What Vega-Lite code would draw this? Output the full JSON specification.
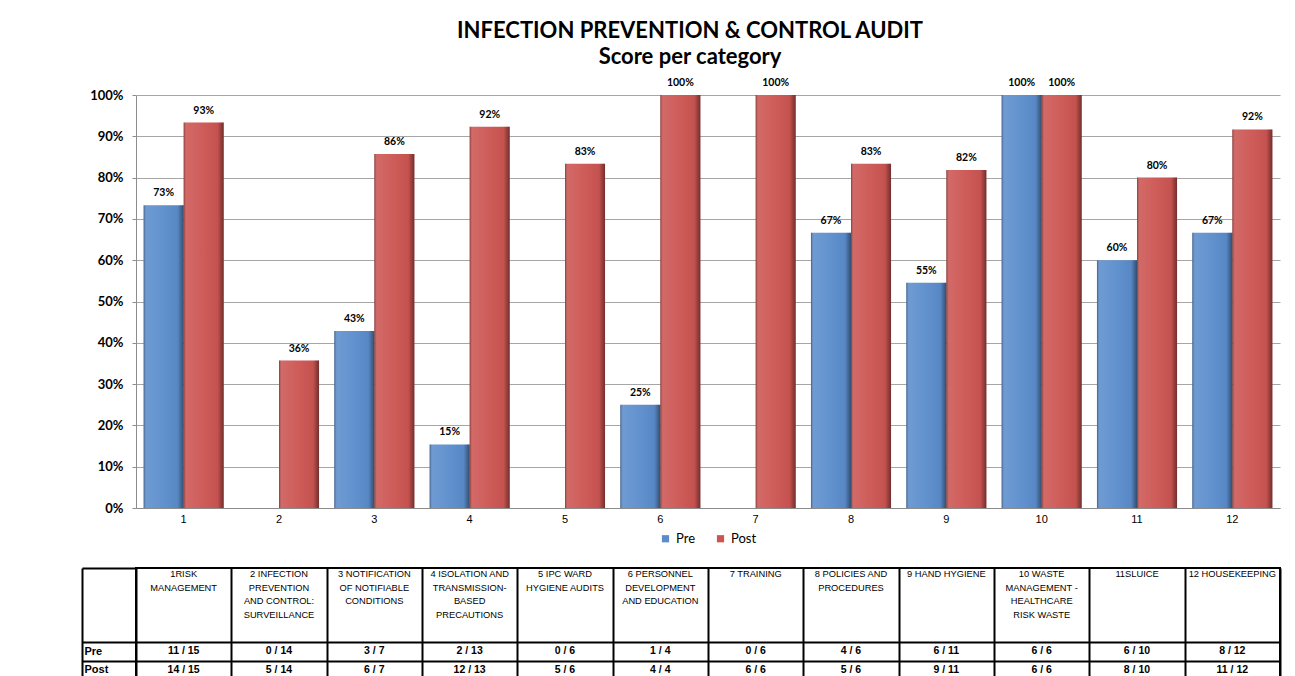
{
  "$schema": "https://vega.github.io/schema/vega-lite/v6.json",
  "padding": {"left": 80, "top": 20, "right": 5, "bottom": 0},
  "background": "white",
  "config": {"font": "Lato", "view": {"stroke": null}},
  "spacing": 0,
  "resolve": {"scale": {"x": "independent", "y": "independent", "color": "independent"}},
  "datasets": {
    "scores": [
      {"cat": 1, "series": "Pre", "value": 0.7333}, {"cat": 1, "series": "Post", "value": 0.9333},
      {"cat": 2, "series": "Pre", "value": 0}, {"cat": 2, "series": "Post", "value": 0.3571},
      {"cat": 3, "series": "Pre", "value": 0.4286}, {"cat": 3, "series": "Post", "value": 0.8571},
      {"cat": 4, "series": "Pre", "value": 0.1538}, {"cat": 4, "series": "Post", "value": 0.9231},
      {"cat": 5, "series": "Pre", "value": 0}, {"cat": 5, "series": "Post", "value": 0.8333},
      {"cat": 6, "series": "Pre", "value": 0.25}, {"cat": 6, "series": "Post", "value": 1},
      {"cat": 7, "series": "Pre", "value": 0}, {"cat": 7, "series": "Post", "value": 1},
      {"cat": 8, "series": "Pre", "value": 0.6667}, {"cat": 8, "series": "Post", "value": 0.8333},
      {"cat": 9, "series": "Pre", "value": 0.5455}, {"cat": 9, "series": "Post", "value": 0.8182},
      {"cat": 10, "series": "Pre", "value": 1}, {"cat": 10, "series": "Post", "value": 1},
      {"cat": 11, "series": "Pre", "value": 0.6}, {"cat": 11, "series": "Post", "value": 0.8},
      {"cat": 12, "series": "Pre", "value": 0.6667}, {"cat": 12, "series": "Post", "value": 0.9167}
    ],
    "table": [
      {"cat": 1, "header": "1RISK\nMANAGEMENT", "Pre": "11 / 15", "Post": "14 / 15"},
      {"cat": 2, "header": "2 INFECTION\nPREVENTION\nAND CONTROL:\nSURVEILLANCE", "Pre": "0 / 14", "Post": "5 / 14"},
      {"cat": 3, "header": "3 NOTIFICATION\nOF NOTIFIABLE\nCONDITIONS", "Pre": "3 / 7", "Post": "6 / 7"},
      {"cat": 4, "header": "4 ISOLATION AND\nTRANSMISSION-\nBASED\nPRECAUTIONS", "Pre": "2 / 13", "Post": "12 / 13"},
      {"cat": 5, "header": "5 IPC WARD\nHYGIENE AUDITS", "Pre": "0 / 6", "Post": "5 / 6"},
      {"cat": 6, "header": "6 PERSONNEL\nDEVELOPMENT\nAND EDUCATION", "Pre": "1 / 4", "Post": "4 / 4"},
      {"cat": 7, "header": "7 TRAINING", "Pre": "0 / 6", "Post": "6 / 6"},
      {"cat": 8, "header": "8 POLICIES AND\nPROCEDURES", "Pre": "4 / 6", "Post": "5 / 6"},
      {"cat": 9, "header": "9 HAND HYGIENE", "Pre": "6 / 11", "Post": "9 / 11"},
      {"cat": 10, "header": "10 WASTE\nMANAGEMENT -\nHEALTHCARE\nRISK WASTE", "Pre": "6 / 6", "Post": "6 / 6"},
      {"cat": 11, "header": "11SLUICE", "Pre": "6 / 10", "Post": "8 / 10"},
      {"cat": 12, "header": "12 HOUSEKEEPING", "Pre": "8 / 12", "Post": "11 / 12"}
    ]
  },
  "vconcat": [
    {
      "title": {
        "text": ["INFECTION PREVENTION & CONTROL AUDIT", "Score per category"],
        "font": "Lato", "fontSize": 22, "fontWeight": "bold", "color": "black",
        "lineHeight": 26, "offset": 9, "anchor": "middle", "dx": -18
      },
      "width": 1144,
      "height": 413,
      "data": {"name": "scores"},
      "encoding": {
        "x": {
          "field": "cat", "type": "ordinal",
          "scale": {"paddingInner": 0.16, "paddingOuter": 0.08},
          "axis": {"title": " ", "titleFontSize": 10, "titlePadding": 27, "labelAngle": 0, "ticks": false, "domainColor": "#8c8c8c",
                   "labelFont": "Liberation Sans", "labelFontSize": 11, "labelColor": "black", "labelPadding": 5}
        },
        "xOffset": {"field": "series", "type": "nominal", "sort": ["Pre", "Post"]},
        "y": {
          "field": "value", "type": "quantitative",
          "scale": {"domain": [0, 1]},
          "axis": {"title": null, "format": ".0%", "values": [0, 0.1, 0.2, 0.3, 0.4, 0.5, 0.6, 0.7, 0.8, 0.9, 1],
                   "labelFontWeight": "bold", "labelFontSize": 13, "labelColor": "black", "labelFont": "Lato",
                   "gridColor": "#a6a6a6", "domainColor": "#8c8c8c", "tickColor": "#8c8c8c", "tickSize": 4, "labelPadding": 9}
        }
      },
      "layer": [
        {
          "mark": {"type": "bar"},
          "encoding": {
            "color": {
              "field": "series", "type": "nominal",
              "scale": {"domain": ["Pre", "Post"], "range": ["#5b8dcc", "#cc5552"]},
              "legend": {"title": null, "orient": "none", "legendX": 523, "legendY": 437, "direction": "horizontal",
                         "symbolType": "square", "symbolSize": 52, "labelFontSize": 13, "labelFont": "Lato",
                         "labelColor": "black", "labelOffset": 4, "columnPadding": 18, "symbolStrokeWidth": 0}
            }
          }
        },
        {
          "mark": {
            "type": "bar",
            "fill": {
              "gradient": "linear", "x1": 0, "x2": 1, "y1": 0, "y2": 0,
              "stops": [
                {"offset": 0, "color": "rgba(0,0,0,0.35)"},
                {"offset": 0.07, "color": "rgba(255,255,255,0.12)"},
                {"offset": 0.5, "color": "rgba(255,255,255,0.04)"},
                {"offset": 0.85, "color": "rgba(0,0,0,0.04)"},
                {"offset": 1, "color": "rgba(0,0,0,0.45)"}
              ]
            }
          }
        },
        {
          "transform": [{"filter": "datum.value > 0"}],
          "mark": {"type": "text", "baseline": "alphabetic", "dy": -9, "fontWeight": "bold", "fontSize": 10.5, "font": "Lato", "color": "black"},
          "encoding": {"text": {"field": "value", "type": "quantitative", "format": ".0%"}}
        }
      ]
    },
    {
      "width": 1144,
      "height": 111,
      "view": {"stroke": "black", "strokeWidth": 2},
      "data": {"name": "table"},
      "encoding": {
        "x": {
          "field": "cat", "type": "ordinal",
          "scale": {"paddingInner": 0, "paddingOuter": 0},
          "axis": {"title": null, "orient": "bottom", "labels": false, "ticks": false, "domain": false, "grid": true,
                   "tickBand": "extent", "gridColor": "black", "gridWidth": 2, "gridOpacity": 1}
        }
      },
      "resolve": {"scale": {"y": "independent"}, "axis": {"y": "independent"}},
      "layer": [
        {
          "layer": [
            {
              "transform": [{"fold": ["Pre", "Post"], "as": ["row", "cell"]}],
              "mark": {"type": "text", "font": "Liberation Sans", "fontWeight": "bold", "fontSize": 10.5, "color": "black"},
              "encoding": {
                "y": {
                  "field": "row", "type": "nominal",
                  "scale": {"domain": ["h1", "h2", "h3", "h4", "Pre", "Post"], "paddingInner": 0, "paddingOuter": 0},
                  "axis": {"title": null, "values": ["Pre", "Post"], "offset": 54, "tickSize": -54, "tickBand": "extent",
                           "tickColor": "black", "tickWidth": 2, "domainColor": "black", "domainWidth": 2,
                           "grid": true, "gridColor": "black", "gridWidth": 2, "gridOpacity": 1,
                           "labelAlign": "left", "labelBaseline": "middle", "labelPadding": 52,
                           "labelFont": "Liberation Sans", "labelFontWeight": "bold", "labelFontSize": 11, "labelColor": "black"}
                },
                "text": {"field": "cell", "type": "nominal"}
              }
            },
            {
              "mark": {"type": "text", "font": "Liberation Sans", "fontSize": 9.3, "lineBreak": "\n", "lineHeight": 13.5,
                       "baseline": "top", "dy": -7, "color": "black"},
              "encoding": {
                "y": {"datum": "h1", "type": "nominal"},
                "text": {"field": "header", "type": "nominal"}
              }
            }
          ]
        },
        {
          "mark": {"type": "text", "opacity": 0},
          "encoding": {
            "y": {
              "datum": "all", "type": "nominal",
              "scale": {"domain": ["all"], "paddingInner": 0, "paddingOuter": 0},
              "axis": {"title": null, "orient": "right", "offset": -1198, "tickSize": 54, "tickBand": "extent",
                       "tickColor": "black", "tickWidth": 2, "domain": false, "labels": false, "grid": false}
            },
            "text": {"value": ""}
          }
        }
      ]
    }
  ]
}
